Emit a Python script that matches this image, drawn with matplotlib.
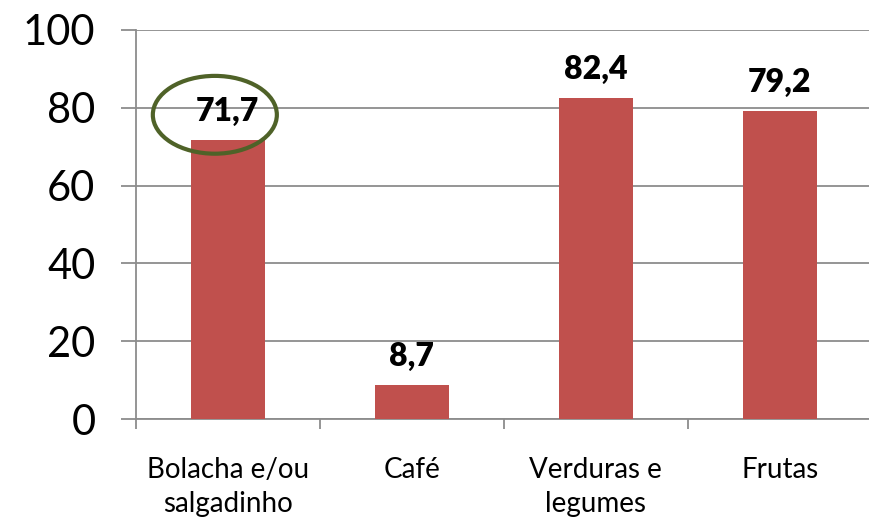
from matplotlib import pyplot as plt
from matplotlib.patches import Ellipse
import numpy as np

categories = ['Bolacha e/ou\nsalgadinho', 'Café', 'Verduras e\nlegumes', 'Frutas']
values = [71.7, 8.7, 82.4, 79.2]
labels = ['71,7', '8,7', '82,4', '79,2']
yticks = [0, 20, 40, 60, 80, 100]

plt.rcParams['font.family'] = ['Lato', 'DejaVu Sans']

fig = plt.figure(figsize=(8.7, 5.26), dpi=100)
ax = fig.add_axes([0.156, 0.2034, 0.846, 0.7396])

x = np.arange(len(categories))
ax.bar(x, values, width=0.4, color='#C0504D', zorder=3)

for xi, v, lab in zip(x, values, labels):
    ax.annotate(lab, (xi, v), xytext=(0, 14), textcoords='offset points',
                ha='center', va='baseline', fontsize=23, fontweight='heavy', zorder=5)

# highlight around the first label
ax.add_patch(Ellipse((x[0] - 0.07, values[0] + 6.5), 0.674, 20, fill=False,
                     edgecolor='#4F6228', linewidth=3, zorder=6, clip_on=False))

ax.set_xlim(-0.5, len(categories) - 0.5)
ax.set_ylim(0, 100)
ax.set_yticks(yticks)
ax.set_yticklabels([str(t) for t in yticks], fontsize=30)
ax.grid(axis='y', color='#8C8C8C', linewidth=1.3, zorder=0)

ax.set_xticks(np.arange(-0.5, len(categories), 1.0))
ax.set_xticklabels([])
ax.set_xticks(x, minor=True)
ax.set_xticklabels(categories, minor=True, fontsize=20, linespacing=1.4)
ax.tick_params(axis='x', which='major', length=7, width=1.3, color='#8C8C8C', direction='out')
ax.tick_params(axis='x', which='minor', length=0, pad=27)
ax.tick_params(axis='y', length=11, width=1.3, color='#8C8C8C', pad=18)

for s in ['top', 'right']:
    ax.spines[s].set_visible(False)
for s in ['left', 'bottom']:
    ax.spines[s].set_color('#8C8C8C')
    ax.spines[s].set_linewidth(1.3)

plt.savefig('out.png')
